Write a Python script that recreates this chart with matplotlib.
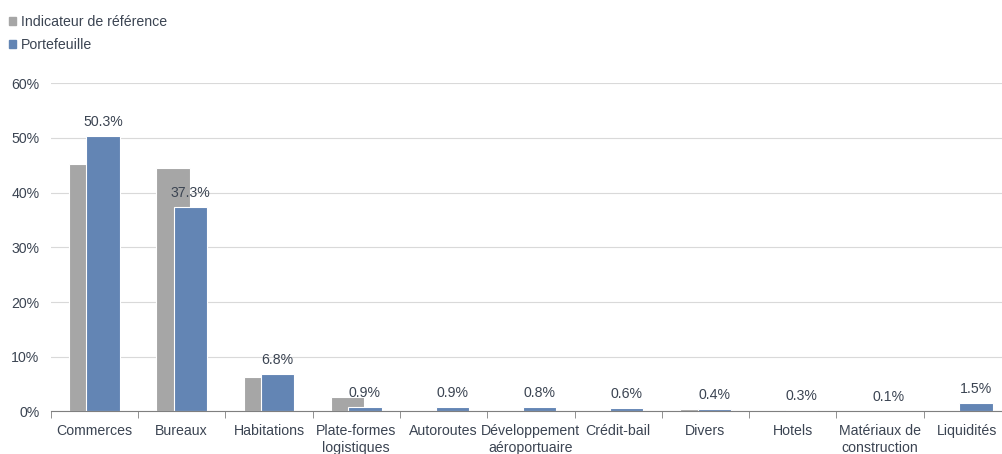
import matplotlib

matplotlib.use("Agg")
import matplotlib.pyplot as plt
import numpy as np
from matplotlib.patches import Patch
from matplotlib.ticker import FuncFormatter, MultipleLocator

plt.rcParams["font.family"] = ["Liberation Sans", "DejaVu Sans"]

categories = [
    "Commerces", "Bureaux", "Habitations", "Plate-formes\nlogistiques", "Autoroutes",
    "Développement\naéroportuaire", "Crédit-bail", "Divers", "Hotels",
    "Matériaux de\nconstruction", "Liquidités",
]
benchmark = [45.2, 44.4, 6.3, 2.7, 0.0, 0.0, 0.0, 0.5, 0.1, 0.0, 0.0]
portfolio = [50.3, 37.3, 6.8, 0.9, 0.9, 0.8, 0.6, 0.4, 0.3, 0.1, 1.5]
labels = ["50.3%", "37.3%", "6.8%", "0.9%", "0.9%", "0.8%", "0.6%", "0.4%", "0.3%", "0.1%", "1.5%"]

GREY = "#a6a6a6"
BLUE = "#6385b4"
TXT = "#3b4452"
FS = 10.2

fig = plt.figure(figsize=(10.02, 4.54), dpi=100)
ax = fig.add_axes([0.0506, 0.0937, 11 * 87.3 / 1002, 0.817 - 0.0937])

x = np.arange(len(categories))
w = 0.38
ax.bar(x - 0.1, benchmark, w, color=GREY, edgecolor="white", linewidth=0.8, zorder=2)
ax.bar(x + 0.1, portfolio, w, color=BLUE, edgecolor="white", linewidth=0.8, zorder=3)
for xi, v, lab in zip(x, portfolio, labels):
    ax.annotate(lab, (xi + 0.1, v), xytext=(0, 5), textcoords="offset points",
                ha="center", va="bottom", fontsize=FS, color=TXT, zorder=4)

ax.set_xlim(-0.5, len(categories) - 0.5)
ax.set_ylim(0, 60)
ax.yaxis.set_major_locator(MultipleLocator(10))
ax.yaxis.set_major_formatter(FuncFormatter(lambda v, _: f"{v:.0f}%"))
ax.grid(axis="y", color="#d9d9d9", linewidth=0.8, zorder=0)
ax.set_axisbelow(True)

ax.set_xticks(x)
ax.set_xticklabels(categories, fontsize=FS, color=TXT, linespacing=1.25)
ax.set_xticks(np.arange(len(categories) + 1) - 0.5, minor=True)
ax.tick_params(axis="x", which="major", length=0, pad=9)
ax.tick_params(axis="x", which="minor", length=5, color="#7f7f7f", direction="out")
ax.tick_params(axis="y", length=0, labelsize=FS, labelcolor=TXT, pad=8)

for s in ["top", "right", "left"]:
    ax.spines[s].set_visible(False)
ax.spines["bottom"].set_color("#7f7f7f")
ax.spines["bottom"].set_zorder(5)

handles = [Patch(color=GREY, label="Indicateur de référence"), Patch(color=BLUE, label="Portefeuille")]
fig.legend(handles=handles, loc="upper left", bbox_to_anchor=(0.0, 0.985), frameon=False,
           fontsize=FS, handlelength=0.5, handleheight=0.5, handletextpad=0.4,
           labelspacing=0.6, borderaxespad=0.2, labelcolor=TXT)

fig.savefig("out.png", dpi=100)
